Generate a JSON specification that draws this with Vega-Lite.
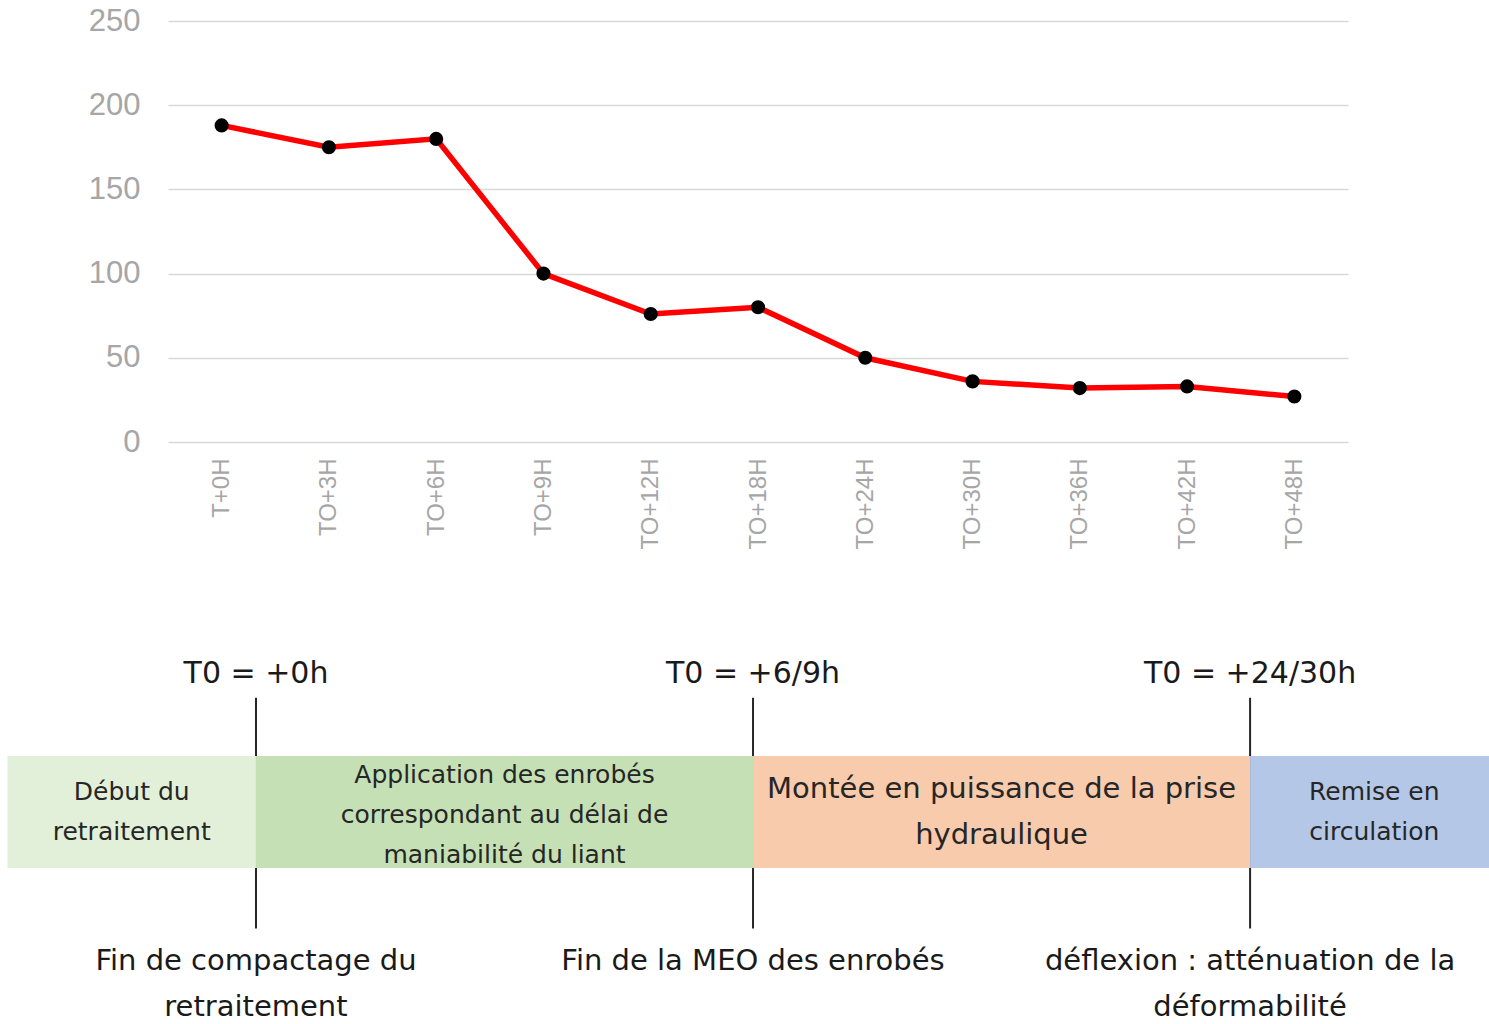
{
  "$schema": "https://vega.github.io/schema/vega-lite/v6.json",
  "width": 1180,
  "height": 421,
  "autosize": {"type": "none"},
  "padding": {"left": 168, "top": 21, "right": 141, "bottom": 582},
  "background": "white",
  "config": {"view": {"stroke": null}},
  "datasets": {
    "rigidity": [
      {"time": "T+0H", "value": 188},
      {"time": "TO+3H", "value": 175},
      {"time": "TO+6H", "value": 180},
      {"time": "TO+9H", "value": 100},
      {"time": "TO+12H", "value": 76},
      {"time": "TO+18H", "value": 80},
      {"time": "TO+24H", "value": 50},
      {"time": "TO+30H", "value": 36},
      {"time": "TO+36H", "value": 32},
      {"time": "TO+42H", "value": 33},
      {"time": "TO+48H", "value": 27}
    ],
    "stages": [
      {"stage": "debut", "start": 0.5, "end": 1, "mid": 0.75, "label": "Début du\nretraitement"},
      {"stage": "application", "start": 1, "end": 2, "mid": 1.5, "label": "Application des enrobés\ncorrespondant au délai de\nmaniabilité du liant"},
      {"stage": "montee", "start": 2, "end": 3, "mid": 2.5, "label": "Montée en puissance de la prise\nhydraulique"},
      {"stage": "remise", "start": 3, "end": 3.5, "mid": 3.25, "label": "Remise en\ncirculation"}
    ],
    "milestones": [
      {"pos": 1, "top": "T0 = +0h", "desc": "Fin de compactage du\nretraitement"},
      {"pos": 2, "top": "T0 = +6/9h", "desc": "Fin de la MEO des enrobés"},
      {"pos": 3, "top": "T0 = +24/30h", "desc": "déflexion : atténuation de la\ndéformabilité"}
    ]
  },
  "layer": [
    {
      "data": {"name": "rigidity"},
      "encoding": {
        "x": {
          "field": "time",
          "type": "ordinal",
          "sort": null,
          "scale": {"type": "point", "padding": 0.5},
          "axis": {
            "title": null,
            "labelAngle": -90,
            "labelFont": "Liberation Sans",
            "labelFontSize": 24,
            "labelColor": "#a6a6a6",
            "labelPadding": 16,
            "ticks": false,
            "tickSize": 0,
            "domain": false,
            "grid": false
          }
        },
        "y": {
          "field": "value",
          "type": "quantitative",
          "scale": {"domain": [0, 250], "nice": false},
          "axis": {
            "title": null,
            "values": [0, 50, 100, 150, 200, 250],
            "labelFont": "Liberation Sans",
            "labelFontSize": 31,
            "labelColor": "#a6a6a6",
            "labelPadding": 28,
            "ticks": false,
            "tickSize": 0,
            "domain": false,
            "grid": true,
            "gridColor": "#d9d9d9",
            "gridWidth": 1.5
          }
        }
      },
      "layer": [
        {"mark": {"type": "line", "color": "#ff0000", "strokeWidth": 5.5}},
        {"mark": {"type": "circle", "color": "#000000", "opacity": 1, "size": 200}}
      ]
    },
    {
      "layer": [
        {
          "data": {"name": "milestones"},
          "mark": {"type": "rule", "color": "#262626", "strokeWidth": 2},
          "encoding": {
            "x": {"field": "pos", "type": "quantitative", "scale": {"domain": [0.823, 3.197], "nice": false, "zero": false}, "axis": null},
            "y": {"datum": -0.52, "type": "quantitative", "scale": {"domain": [-6.5625, -2.8036], "nice": false, "zero": false, "reverse": true}, "axis": null},
            "y2": {"datum": 1.54}
          }
        },
        {
          "data": {"name": "stages"},
          "mark": {"type": "rect"},
          "encoding": {
            "x": {"field": "start", "type": "quantitative", "axis": null},
            "x2": {"field": "end"},
            "y": {"datum": 0, "type": "quantitative", "axis": null},
            "y2": {"datum": 1},
            "color": {
              "field": "stage",
              "type": "nominal",
              "scale": {"domain": ["debut", "application", "montee", "remise"], "range": ["#e2f0d9", "#c5e0b4", "#f8cbad", "#b4c7e7"]},
              "legend": null
            }
          }
        },
        {
          "data": {"name": "milestones"},
          "mark": {"type": "text", "font": "DejaVu Sans", "fontSize": 30, "color": "#1a1a1a", "align": "center", "baseline": "middle"},
          "encoding": {
            "x": {"field": "pos", "type": "quantitative", "axis": null},
            "y": {"datum": -0.73, "type": "quantitative", "axis": null},
            "text": {"field": "top"}
          }
        },
        {
          "data": {"name": "milestones"},
          "mark": {"type": "text", "font": "DejaVu Sans", "fontSize": 29, "lineHeight": 46, "lineBreak": "\n", "color": "#1a1a1a", "align": "center", "baseline": "middle"},
          "encoding": {
            "x": {"field": "pos", "type": "quantitative", "axis": null},
            "y": {"datum": 1.83, "type": "quantitative", "axis": null},
            "text": {"field": "desc"}
          }
        },
        {
          "data": {"name": "stages"},
          "transform": [{"filter": "datum.stage === 'debut' || datum.stage === 'remise'"}],
          "mark": {"type": "text", "font": "DejaVu Sans", "fontSize": 25, "lineHeight": 40, "lineBreak": "\n", "color": "#262626", "align": "center", "baseline": "middle", "dy": -20},
          "encoding": {
            "x": {"field": "mid", "type": "quantitative", "axis": null},
            "y": {"datum": 0.5, "type": "quantitative", "axis": null},
            "text": {"field": "label"}
          }
        },
        {
          "data": {"name": "stages"},
          "transform": [{"filter": "datum.stage === 'application'"}],
          "mark": {"type": "text", "font": "DejaVu Sans", "fontSize": 25, "lineHeight": 40, "lineBreak": "\n", "color": "#262626", "align": "center", "baseline": "middle", "dy": -37},
          "encoding": {
            "x": {"field": "mid", "type": "quantitative", "axis": null},
            "y": {"datum": 0.5, "type": "quantitative", "axis": null},
            "text": {"field": "label"}
          }
        },
        {
          "data": {"name": "stages"},
          "transform": [{"filter": "datum.stage === 'montee'"}],
          "mark": {"type": "text", "font": "DejaVu Sans", "fontSize": 29, "lineHeight": 46, "lineBreak": "\n", "color": "#262626", "align": "center", "baseline": "middle", "dy": -23},
          "encoding": {
            "x": {"field": "mid", "type": "quantitative", "axis": null},
            "y": {"datum": 0.5, "type": "quantitative", "axis": null},
            "text": {"field": "label"}
          }
        }
      ]
    }
  ],
  "resolve": {"scale": {"x": "independent", "y": "independent"}}
}
